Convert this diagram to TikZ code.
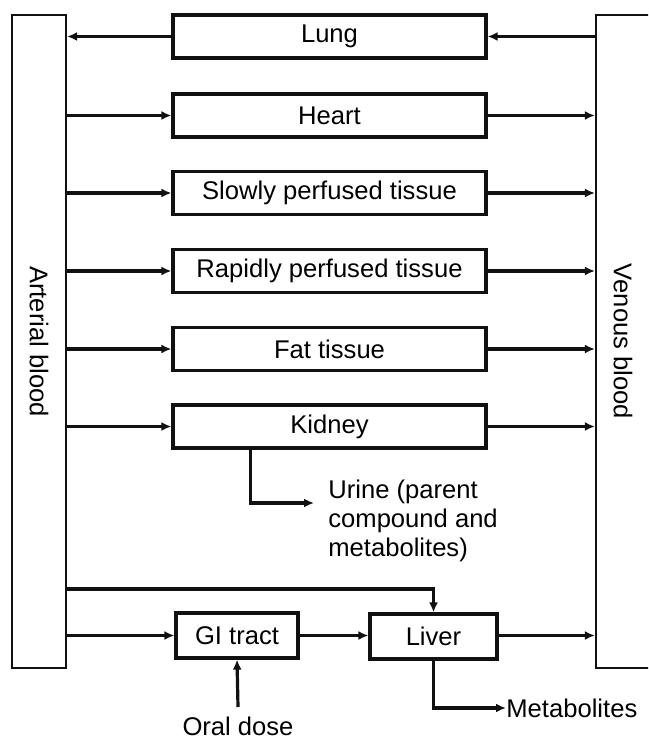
\documentclass[tikz,border=0pt]{standalone}
\usepackage{fontspec}
\setmainfont{Liberation Sans}
\usetikzlibrary{arrows.meta,positioning,calc}
\definecolor{ink}{HTML}{111111}
\tikzset{
  organ/.style={draw=ink, line width=1.6pt, minimum width=156.5pt, minimum height=21.5pt, inner sep=0pt, align=center},
  smallorgan/.style={organ, minimum width=62pt, minimum height=22.5pt},
  bloodbar/.style={draw=ink, line width=1.1pt, fill=white, minimum width=27pt, minimum height=326.5pt, inner sep=0pt},
  label/.style={inner sep=0pt, align=left},
  arrow/.style={-{Latex[length=5pt,width=4.5pt]}, line width=1.6pt, draw=ink}
}

\begin{document}
\begin{tikzpicture}[x=0.5pt, y=-0.5pt, every node/.append style={font=\fontsize{12.8}{14.3}\selectfont}]
  \clip (0,0) rectangle (648,738);
  % blood pools
  \node[bloodbar] (art) at (39,341.5) {};
  \node[bloodbar] (ven) at (623,341.5) {};
  \node[rotate=-90, inner sep=0pt] (artlbl) at (art.center) {Arterial blood};
  \node[rotate=-90, inner sep=0pt] (venlbl) at (ven.center) {Venous blood};

  % organs
  \node[organ] (lung) at (329.5,36.5) {Lung};
  \node[organ] (heart) at (329.5,115.5) {Heart};
  \node[organ] (slow) at (329.5,193) {Slowly perfused tissue};
  \node[organ] (rapid) at (329.5,271) {Rapidly perfused tissue};
  \node[organ] (fat) at (329.5,349) {Fat tissue};
  \node[organ] (kidney) at (329.5,426.5) {Kidney};
  \node[smallorgan, minimum width=61pt] (gi) at (237,635.5) {GI tract};
  \node[smallorgan, minimum width=63.5pt] (liver) at (433.5,636.5) {Liver};

  % outputs and inputs
  \coordinate (urineend) at (314,503);
  \node[label, anchor=north west] (urine) at (328,480) {Urine (parent\\compound and\\metabolites)};
  \node[label, anchor=west] (metab) at (506,708) {Metabolites};
  \node[label, anchor=base] (oral) at (238,735) {Oral dose};
  \coordinate (bypass) at (66,589);

  % flows
  \draw[arrow] (ven.west |- lung) -- (lung);
  \draw[arrow] (lung) -- (art.east |- lung);
  \draw[arrow] (art.east |- heart) -- (heart);
  \draw[arrow] (heart) -- (ven.west |- heart);
  \draw[arrow] (art.east |- slow) -- (slow);
  \draw[arrow] (slow) -- (ven.west |- slow);
  \draw[arrow] (art.east |- rapid) -- (rapid);
  \draw[arrow] (rapid) -- (ven.west |- rapid);
  \draw[arrow] (art.east |- fat) -- (fat);
  \draw[arrow] (fat) -- (ven.west |- fat);
  \draw[arrow] (art.east |- kidney) -- (kidney);
  \draw[arrow] (kidney) -- (ven.west |- kidney);
  \draw[arrow] ([xshift=39.5pt]kidney.south west) |- (urineend);
  \draw[arrow] (bypass) -| (liver.north);
  \draw[arrow] (art.east |- gi) -- (gi);
  \draw[arrow] (gi) -- (liver.west |- gi);
  \draw[arrow] (liver.east |- gi) -- (ven.west |- gi);
  \draw[arrow] (liver.south) |- (metab.west);
  \draw[arrow] (oral.north |- 0,707) -- (gi.south);
\end{tikzpicture}
\end{document}
